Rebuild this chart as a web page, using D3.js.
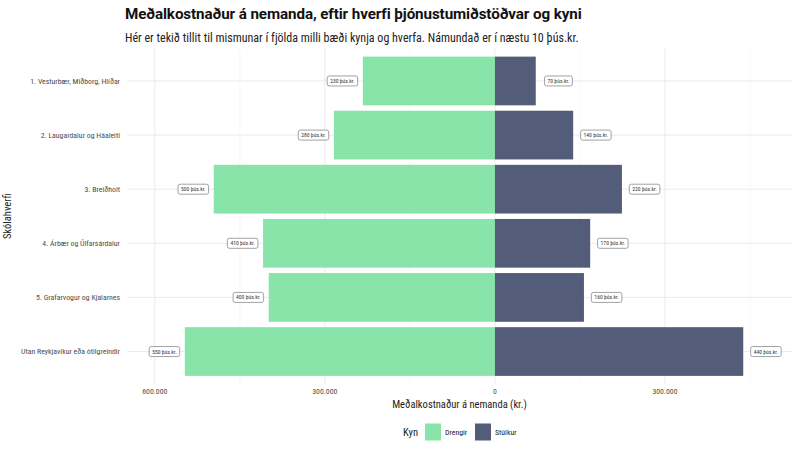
<!DOCTYPE html>
<html>
<head>
<meta charset="utf-8">
<script src="https://cdn.jsdelivr.net/npm/d3@7"></script>
<style>
  body { margin: 0; background: #fff; }
  svg text { font-family: "Roboto Condensed", "Liberation Sans Narrow", "DejaVu Sans Condensed", Roboto, sans-serif; }
</style>
</head>
<body>
<svg id="chart" width="800" height="450"></svg>
<script>
// data
var categories = [
  '1. Vesturbær, Miðborg, Hlíðar',
  '2. Laugardalur og Háaleiti',
  '3. Breiðholt',
  '4. Árbær og Úlfarsárdalur',
  '5. Grafarvogur og Kjalarnes',
  'Utan Reykjavíkur eða ótilgreindir'
];
var drengir = [233000, 284000, 496000, 409000, 399000, 547000];
var stulkur = [72000, 138000, 224000, 168000, 157000, 438000];
var seriesNames = ['Drengir', 'Stúlkur'];
var majorTicks = [-600000, -300000, 0, 300000];
var minorTicks = [-450000, -150000, 150000, 450000];

var colors = {Drengir: '#88e4a8', 'Stúlkur': '#535c78'};

var svg = d3.select('#chart'),
    panel = {left: 127, right: 792, top: 48.5, bottom: 384};

var locale = d3.formatLocale({decimal: ',', thousands: '.', grouping: [3], currency: ['', ' kr.']});
var fmt = locale.format(',d');

var x = d3.scaleLinear().domain([-649000, 524000]).range([panel.left, panel.right]);
var y = d3.scalePoint().domain(categories).range([panel.top, panel.bottom]).padding(0.6);
var barH = y.step() * 0.9;

// rows for bars, drengir go to the left
var rows = [];
categories.forEach(function(c, i) {
  rows.push({cat: c, kyn: 'Drengir', value: -drengir[i]});
  rows.push({cat: c, kyn: 'Stúlkur', value: stulkur[i]});
});

// grid
var grid = svg.append('g').attr('class', 'grid');
grid.selectAll('line.minor').data(minorTicks).enter().append('line')
  .attr('class', 'minor')
  .attr('x1', function(d){ return x(d); }).attr('x2', function(d){ return x(d); })
  .attr('y1', panel.top).attr('y2', panel.bottom)
  .attr('stroke', '#f2f2f2').attr('stroke-width', 0.6);
grid.selectAll('line.major').data(majorTicks).enter().append('line')
  .attr('class', 'major')
  .attr('x1', function(d){ return x(d); }).attr('x2', function(d){ return x(d); })
  .attr('y1', panel.top).attr('y2', panel.bottom)
  .attr('stroke', '#ebebeb').attr('stroke-width', 1);
grid.selectAll('line.hy').data(categories).enter().append('line')
  .attr('class', 'hy')
  .attr('x1', panel.left).attr('x2', panel.right)
  .attr('y1', function(d){ return y(d); }).attr('y2', function(d){ return y(d); })
  .attr('stroke', '#ebebeb').attr('stroke-width', 1);

// bars
svg.append('g').selectAll('rect').data(rows).enter().append('rect')
  .attr('x', function(d){ return Math.min(x(0), x(d.value)); })
  .attr('width', function(d){ return Math.abs(x(d.value) - x(0)); })
  .attr('y', function(d){ return y(d.cat) - barH / 2; })
  .attr('height', barH)
  .attr('fill', function(d){ return colors[d.kyn]; });

// value labels
var lab = svg.append('g').selectAll('g.lab').data(rows).enter().append('g')
  .attr('class', 'lab')
  .attr('transform', function(d){
    var off = d.value < 0 ? -36000 : 40000;
    return 'translate(' + x(d.value + off) + ',' + y(d.cat) + ')';
  });
lab.append('rect');
lab.append('text')
  .attr('text-anchor', 'middle')
  .attr('dy', '0.35em')
  .attr('font-size', 5.6)
  .attr('fill', '#333')
  .text(function(d){ return Math.round(Math.abs(d.value) / 10000) * 10 + ' þús.kr.'; });
lab.each(function() {
  var g = d3.select(this),
      w = g.select('text').node().getComputedTextLength() + 6;
  g.select('rect')
    .attr('x', -w / 2).attr('y', -5).attr('width', w).attr('height', 10)
    .attr('rx', 2).attr('fill', '#fff').attr('stroke', '#8a8a8a').attr('stroke-width', 0.8);
});

// y axis labels
svg.append('g').selectAll('text').data(categories).enter().append('text')
  .attr('x', 120).attr('y', function(d){ return y(d); })
  .attr('dy', '0.35em').attr('text-anchor', 'end')
  .attr('font-size', 7.8).attr('fill', '#4d4d4d')
  .text(function(d){ return d; });

// x axis labels
svg.append('g').selectAll('text').data(majorTicks).enter().append('text')
  .attr('x', function(d){ return x(d); }).attr('y', 394)
  .attr('text-anchor', 'middle')
  .attr('font-size', 7.8).attr('fill', '#4d4d4d')
  .text(function(d){ return fmt(Math.abs(d)); });

// axis titles
svg.append('text')
  .attr('x', (panel.left + panel.right) / 2).attr('y', 408)
  .attr('text-anchor', 'middle').attr('font-size', 10.5).attr('fill', '#222')
  .text('Meðalkostnaður á nemanda (kr.)');
svg.append('text')
  .attr('transform', 'translate(11,' + ((panel.top + panel.bottom) / 2) + ') rotate(-90)')
  .attr('text-anchor', 'middle').attr('font-size', 10.5).attr('fill', '#222')
  .text('Skólahverfi');

// title and subtitle
svg.append('text')
  .attr('x', 125).attr('y', 19)
  .attr('font-size', 15.2).attr('font-weight', 'bold').attr('fill', '#111')
  .attr('letter-spacing', -0.1)
  .style('font-family', 'Roboto, "Noto Sans", sans-serif')
  .text('Meðalkostnaður á nemanda, eftir hverfi þjónustumiðstöðvar og kyni');
svg.append('text')
  .attr('x', 125).attr('y', 42)
  .attr('font-size', 12).attr('fill', '#222')
  .text('Hér er tekið tillit til mismunar í fjölda milli bæði kynja og hverfa. Námundað er í næstu 10 þús.kr.');

// legend
var legend = svg.append('g').attr('transform', 'translate(0,432)');
legend.append('text')
  .attr('x', 403).attr('dy', '0.35em')
  .attr('font-size', 10.5).attr('fill', '#222').text('Kyn');
var item = legend.selectAll('g.item').data(seriesNames).enter().append('g')
  .attr('class', 'item')
  .attr('transform', function(d, i){ return 'translate(' + (425 + i * 50) + ',0)'; });
item.append('rect')
  .attr('x', 0).attr('y', -8.5).attr('width', 16).attr('height', 17)
  .attr('fill', function(d){ return colors[d]; });
item.append('text')
  .attr('x', 20).attr('dy', '0.35em')
  .attr('font-size', 7.8).attr('fill', '#222')
  .text(function(d){ return d; });
</script>
</body>
</html>
